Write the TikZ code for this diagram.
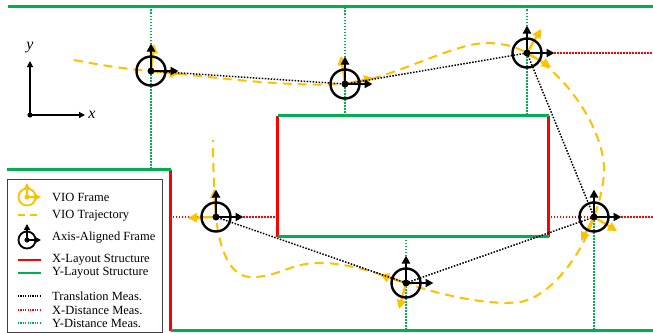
\documentclass[tikz,border=0pt]{standalone}
\usepackage{fontspec}
\setmainfont{Liberation Serif}
\usetikzlibrary{arrows.meta}
\definecolor{gold}{HTML}{FFC000}
\definecolor{lgreen}{HTML}{00B050}
\tikzset{
  xlayout/.style={draw=red,line width=2.6pt},
  ylayout/.style={draw=lgreen,line width=2.6pt},
  transmeas/.style={draw=black,line width=1.5pt,dash pattern=on 1.5pt off 1.5pt},
  xmeas/.style={draw=red,line width=1.5pt,dash pattern=on 1.5pt off 1.5pt},
  ymeas/.style={draw=lgreen,line width=1.5pt,dash pattern=on 1.5pt off 1.5pt},
  traj/.style={draw=gold,line width=2pt,dash pattern=on 9pt off 6pt},
  vioarrow/.style={draw=gold,line width=2.3pt,-{Triangle[length=9pt,width=9pt]}},
  blackarrow/.style={draw=black,line width=2.2pt,-{Triangle[length=8pt,width=8pt]}},
  ring/.style={draw=black,line width=2.4pt,circle,minimum size=29pt,inner sep=0pt},
  dotmark/.style={fill=black,circle,minimum size=7pt,inner sep=0pt},
  legtext/.style={anchor=west,inner sep=0pt,font=\fontsize{12.5}{14}\selectfont},
  axislabel/.style={inner sep=0pt,font=\fontsize{16}{18}\selectfont\itshape}
}
\newcommand{\aaframe}[1]{%
  \draw[blackarrow] (#1) -- ++(0,-27.5);
  \draw[blackarrow] (#1) -- ++(27.5,0);
  \node[ring] at (#1) {};
  \node[dotmark] at (#1) {};
}
\begin{document}
\begin{tikzpicture}[x=1pt,y=-1pt]
\useasboundingbox (0,0) rectangle (653,332);
\fill[white] (0,0) rectangle (653,332);
% frame centres
\coordinate (F1) at (151,71);
\coordinate (F2) at (345,84);
\coordinate (F3) at (527,53);
\coordinate (F4) at (594,217);
\coordinate (F5) at (406,283);
\coordinate (F6) at (216,217);
% structure corners
\coordinate (TL) at (8,6.5);
\coordinate (TR) at (653,6.5);
\coordinate (ML) at (7,169.5);
\coordinate (MC) at (170.5,169.5);
\coordinate (BC) at (170.5,330.5);
\coordinate (BR) at (653,330.5);
\coordinate (RA) at (277.5,115.5);
\coordinate (RB) at (548.5,115.5);
\coordinate (RC) at (548.5,236.5);
\coordinate (RD) at (277.5,236.5);
% distance measurements
\draw[ymeas] (F1) -- (F1 |- TL);
\draw[ymeas] (F1) -- (F1 |- MC);
\draw[ymeas] (F2) -- (F2 |- TL);
\draw[ymeas] (F2) -- (F2 |- RA);
\draw[ymeas] (F3) -- (F3 |- TL);
\draw[ymeas] (F3) -- (F3 |- RB);
\draw[ymeas] (F4) -- (F4 |- BR);
\draw[ymeas] (F5) -- (F5 |- RD);
\draw[ymeas] (F5) -- (F5 |- BR);
\draw[xmeas] (F3) -- (F3 -| TR);
\draw[xmeas] (F4) -- (F4 -| TR);
\draw[xmeas] (F4) -- (F4 -| RB);
\draw[xmeas] (F6) -- (F6 -| MC);
\draw[xmeas] (F6) -- (F6 -| RA);
% structures
\draw[xlayout] (RA) -- (RD);
\draw[xlayout] (RB) -- (RC);
\draw[xlayout] (MC) -- (BC);
\draw[ylayout] (TL) -- (TR);
\draw[ylayout] (ML) -- (MC);
\draw[ylayout] (BC) -- (BR);
\draw[ylayout] (RA) -- (RB);
\draw[ylayout] (RD) -- (RC);
% axes
\coordinate (O) at (30,115);
\coordinate (OX) at (85,115);
\coordinate (OY) at (30,61);
\draw[black,line width=1.3pt,-{Triangle[length=6pt,width=6pt]}] (O) -- (OX);
\draw[black,line width=1.3pt,-{Triangle[length=6pt,width=6pt]}] (O) -- (OY);
\fill[black] (O) circle (2.6);
\node[axislabel] (lx) at (92,115) {x};
\node[axislabel] (ly) at (30,48) {y};
% trajectory
\draw[traj] (74,60) .. controls (100,65) and (125,69) .. (151,71)
  .. controls (215,77) and (280,87) .. (345,84)
  .. controls (385,80) and (430,55) .. (470,45)
  .. controls (495,40) and (515,46) .. (527,53)
  .. controls (568,75) and (603,130) .. (604,168)
  .. controls (604,185) and (600,200) .. (594,217)
  .. controls (582,255) and (550,297) .. (520,302)
  .. controls (490,306) and (440,295) .. (406,283)
  .. controls (375,272) and (345,262) .. (315,263)
  .. controls (290,264) and (275,278) .. (250,277)
  .. controls (228,276) and (219,245) .. (216,217)
  .. controls (214,190) and (213,165) .. (213,140);
% VIO frame arrows
\draw[vioarrow] (F1) -- (154,44);
\draw[vioarrow] (F1) -- (179,74);
\draw[vioarrow] (F2) -- (341,56);
\draw[vioarrow] (F2) -- (373,78);
\draw[vioarrow] (F3) -- (541,29);
\draw[vioarrow] (F3) -- (551,67);
\draw[vioarrow] (F4) -- (617,231);
\draw[vioarrow] (F4) -- (581,241);
\draw[vioarrow] (F5) -- (380,275);
\draw[vioarrow] (F5) -- (399,309);
\draw[vioarrow] (F6) -- (214,189);
\draw[vioarrow] (F6) -- (188,218);
% translation measurements
\draw[transmeas] (F1) -- (F2);
\draw[transmeas] (F2) -- (F3);
\draw[transmeas] (F3) -- (F4);
\draw[transmeas] (F4) -- (F5);
\draw[transmeas] (F5) -- (F6);
% axis-aligned frames
\aaframe{F1}
\aaframe{F2}
\aaframe{F3}
\aaframe{F4}
\aaframe{F5}
\aaframe{F6}
% legend
\node[draw=black!75,line width=1.2pt,fill=white,minimum width=155pt,minimum height=153pt,anchor=north west,inner sep=0pt] (legend) at (7,178.5) {};
\coordinate (L1) at (27,197);
\draw[draw=gold,line width=1.6pt,-{Triangle[length=6pt,width=6pt]}] (L1) -- ++(0,-14);
\draw[draw=gold,line width=1.6pt,-{Triangle[length=6pt,width=6pt]}] (L1) -- ++(14,0);
\draw[gold,line width=1.8pt] (L1) circle (8.5);
\fill[gold] (L1) circle (2.6);
\coordinate (L3) at (27,240);
\draw[black,line width=1.6pt,-{Triangle[length=6pt,width=6pt]}] (L3) -- ++(0,-16);
\draw[black,line width=1.6pt,-{Triangle[length=6pt,width=6pt]}] (L3) -- ++(14,0);
\draw[black,line width=1.8pt] (L3) circle (8.5);
\fill[black] (L3) circle (2.6);
\draw[draw=gold,line width=1.5pt,dash pattern=on 7pt off 5pt] (18,215) -- (41,215);
\draw[draw=red,line width=1.6pt] (18,260) -- (41,260);
\draw[draw=lgreen,line width=1.6pt] (18,273) -- (41,273);
\draw[black,line width=1.2pt,dash pattern=on 1.2pt off 1.2pt] (18,296) -- (41,296);
\draw[red,line width=1.2pt,dash pattern=on 1.2pt off 1.2pt] (18,310) -- (41,310);
\draw[lgreen,line width=1.2pt,dash pattern=on 1.2pt off 1.2pt] (18,323) -- (41,323);
\node[legtext] (t1) at (52,197) {VIO Frame};
\node[legtext] (t2) at (52,216) {VIO Trajectory};
\node[legtext] (t3) at (52,238) {Axis-Aligned Frame};
\node[legtext] (t4) at (52,260) {X-Layout Structure};
\node[legtext] (t5) at (52,273) {Y-Layout Structure};
\node[legtext] (t6) at (52,296) {Translation Meas.};
\node[legtext] (t7) at (52,310) {X-Distance Meas.};
\node[legtext] (t8) at (52,323) {Y-Distance Meas.};
\end{tikzpicture}
\end{document}
